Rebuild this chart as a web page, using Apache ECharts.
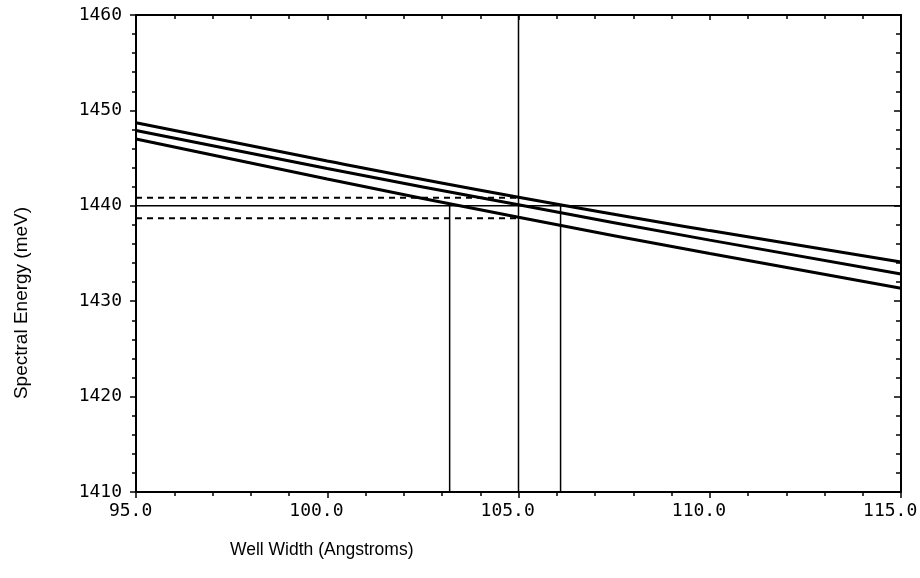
<!DOCTYPE html>
<html>
<head>
<meta charset="utf-8">
<script src="https://cdn.jsdelivr.net/npm/echarts@6/dist/echarts.min.js"></script>
<style>
  html, body { margin: 0; padding: 0; background: #fff; }
  #main { width: 920px; height: 578px; }
</style>
</head>
<body>
<div id="main"></div>
<script>
// well width samples (Angstroms)
var widths = [95, 100, 105, 110, 115];
// three energy curves (meV)
var upperCurve = [1448.7, 1444.7, 1440.9, 1437.4, 1434.1];
var middleCurve = [1447.9, 1443.9, 1440.1, 1436.4, 1432.85];
var lowerCurve = [1447.0, 1442.8, 1438.8, 1435.0, 1431.35];

// reference lines
var targetEnergy = 1440;
var dashedEnergies = [1440.85, 1438.7];
var centerWidth = 105.0;
var sideWidths = [103.2, 106.1];

var xMin = 95, xMax = 115, yMin = 1410, yMax = 1460;

function pairs(xs, ys) {
    return xs.map(function (x, i) { return [x, ys[i]]; });
}

function curve(name, ys) {
    return {
        name: name,
        type: 'line',
        smooth: true,
        symbol: 'none',
        data: pairs(widths, ys),
        lineStyle: { color: '#000', width: 3 }
    };
}

function thinLine(data, dashed) {
    return {
        type: 'line',
        symbol: 'none',
        data: data,
        lineStyle: { color: '#000', width: dashed ? 2 : 1.5, type: dashed ? [6, 5] : 'solid' }
    };
}

var series = [
    curve('upper', upperCurve),
    curve('middle', middleCurve),
    curve('lower', lowerCurve),
    thinLine([[xMin, targetEnergy], [xMax, targetEnergy]], false),
    thinLine([[centerWidth, yMin], [centerWidth, yMax]], false)
];
dashedEnergies.forEach(function (e) {
    series.push(thinLine([[xMin, e], [centerWidth, e]], true));
});
sideWidths.forEach(function (w) {
    series.push(thinLine([[w, yMin], [w, targetEnergy]], false));
});

var tickFont = { fontFamily: 'DejaVu Sans Mono', fontSize: 18, color: '#000' };

var myChart = echarts.init(document.getElementById('main'));
myChart.setOption({
    animation: false,
    backgroundColor: '#fff',
    grid: { left: 136, right: 19, top: 15, bottom: 86, outerBoundsMode: 'none' },
    xAxis: [
        {
            type: 'value', position: 'bottom', min: xMin, max: xMax, interval: 5,
            axisLine: { lineStyle: { color: '#000', width: 2 } },
            axisTick: { inside: false, length: 6, lineStyle: { color: '#000', width: 1.5 } },
            minorTick: { show: true, splitNumber: 5, length: 4, lineStyle: { color: '#000', width: 1.5 } },
            splitLine: { show: false },
            axisLabel: Object.assign({
                margin: 10,
                formatter: function (v) {
                    // pad so the decimal point sits on the tick
                    var s = v.toFixed(1);
                    var left = s.indexOf('.');
                    var right = s.length - left - 1;
                    return s + new Array(left - right + 1).join(' ');
                }
            }, tickFont)
        },
        {
            type: 'value', position: 'top', min: xMin, max: xMax, interval: 5,
            axisLine: { lineStyle: { color: '#000', width: 2 } },
            axisTick: { inside: true, length: 5, lineStyle: { color: '#000', width: 1.5 } },
            minorTick: { show: true, splitNumber: 5, length: 4, lineStyle: { color: '#000', width: 1.5 } },
            splitLine: { show: false },
            axisLabel: { show: false }
        }
    ],
    yAxis: [
        {
            type: 'value', position: 'left', min: yMin, max: yMax, interval: 10,
            axisLine: { lineStyle: { color: '#000', width: 2 } },
            axisTick: { inside: false, length: 6, lineStyle: { color: '#000', width: 1.5 } },
            minorTick: { show: true, splitNumber: 5, length: 4, lineStyle: { color: '#000', width: 1.5 } },
            splitLine: { show: false },
            axisLabel: Object.assign({
                margin: 14,
                formatter: function (v) { return String(v); }
            }, tickFont)
        },
        {
            type: 'value', position: 'right', min: yMin, max: yMax, interval: 10,
            axisLine: { lineStyle: { color: '#000', width: 2 } },
            axisTick: { inside: true, length: 7, lineStyle: { color: '#000', width: 1.5 } },
            minorTick: { show: true, splitNumber: 5, length: 5, lineStyle: { color: '#000', width: 1.5 } },
            splitLine: { show: false },
            axisLabel: { show: false }
        }
    ],
    graphic: [
        {
            type: 'text', left: 230, top: 541,
            style: { text: 'Well Width (Angstroms)', font: '17.5px "Liberation Sans"', fill: '#000' }
        },
        {
            type: 'text', x: 22, y: 303, rotation: Math.PI / 2,
            style: {
                text: 'Spectral Energy (meV)', font: '19px "Liberation Sans"', fill: '#000',
                align: 'center', verticalAlign: 'middle'
            }
        }
    ],
    series: series
});
</script>
</body>
</html>
